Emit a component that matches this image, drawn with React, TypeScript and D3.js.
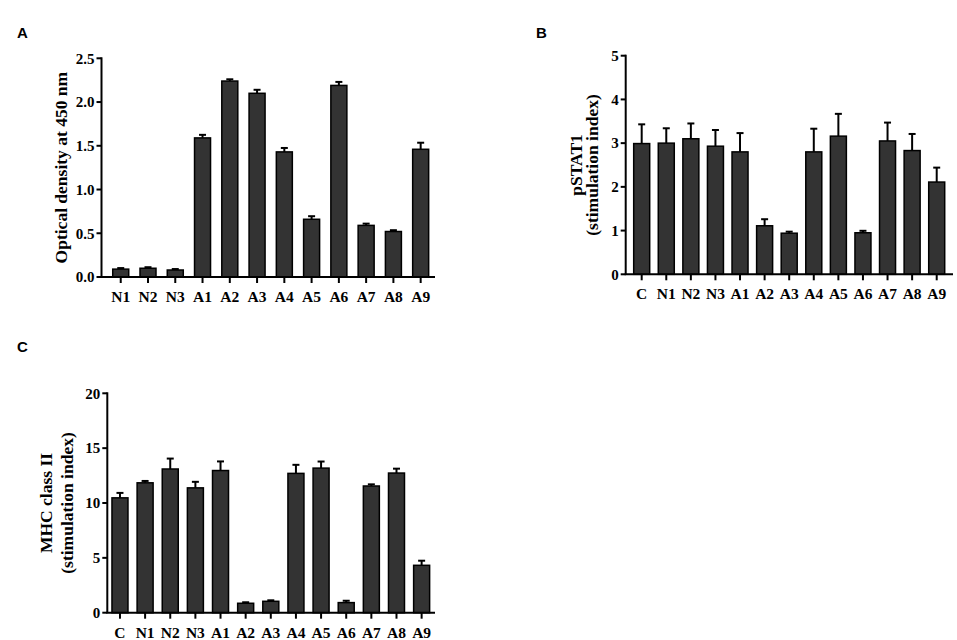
import React, { useEffect, useRef } from 'react';
import * as d3 from 'd3';

// Panel A: antibody binding (OD 450 nm)
const panelACategories = ['N1', 'N2', 'N3', 'A1', 'A2', 'A3', 'A4', 'A5', 'A6', 'A7', 'A8', 'A9'];
const panelAMeans = [0.09, 0.1, 0.08, 1.59, 2.24, 2.1, 1.43, 0.66, 2.19, 0.59, 0.52, 1.46];
const panelAErrors = [0.012, 0.012, 0.011, 0.035, 0.02, 0.04, 0.045, 0.035, 0.04, 0.02, 0.015, 0.075];
const panelATicks = [0, 0.5, 1.0, 1.5, 2.0, 2.5];

// Panel B: pSTAT1
const panelBCategories = ['C', 'N1', 'N2', 'N3', 'A1', 'A2', 'A3', 'A4', 'A5', 'A6', 'A7', 'A8', 'A9'];
const panelBMeans = [2.99, 3.0, 3.1, 2.93, 2.8, 1.11, 0.94, 2.8, 3.16, 0.95, 3.05, 2.83, 2.11];
const panelBErrors = [0.44, 0.34, 0.35, 0.37, 0.43, 0.15, 0.035, 0.53, 0.51, 0.045, 0.42, 0.38, 0.33];
const panelBTicks = [0, 1, 2, 3, 4, 5];

// Panel C: MHC class II
const panelCCategories = ['C', 'N1', 'N2', 'N3', 'A1', 'A2', 'A3', 'A4', 'A5', 'A6', 'A7', 'A8', 'A9'];
const panelCMeans = [10.47, 11.84, 13.1, 11.38, 12.96, 0.86, 1.04, 12.7, 13.18, 0.92, 11.55, 12.73, 4.32];
const panelCErrors = [0.45, 0.17, 0.95, 0.55, 0.83, 0.09, 0.09, 0.78, 0.6, 0.17, 0.15, 0.4, 0.42];
const panelCTicks = [0, 5, 10, 15, 20];

const SERIF = '"Liberation Serif", "Times New Roman", serif';
const SANS = '"Liberation Sans", Arial, sans-serif';

interface PanelSpec {
  letter: string;
  letterX: number;
  letterY: number;
  categories: string[];
  means: number[];
  errors: number[];
  ticks: number[];
  tickFormat: (v: number) => string;
  yMax: number;
  axisX: number;
  xEnd: number;
  yTop: number;
  yBottom: number;
  bandStart: number;
  bandEnd: number;
  titleLines: { text: string; x: number }[];
}

const panels: PanelSpec[] = [
  {
    letter: 'A',
    letterX: 17,
    letterY: 38,
    categories: panelACategories,
    means: panelAMeans,
    errors: panelAErrors,
    ticks: panelATicks,
    tickFormat: d3.format('.1f'),
    yMax: 2.5,
    axisX: 101.5,
    xEnd: 435,
    yTop: 58.3,
    yBottom: 277,
    bandStart: 107.1,
    bandEnd: 434.3,
    titleLines: [{ text: 'Optical density at 450 nm', x: 61 }],
  },
  {
    letter: 'B',
    letterX: 536,
    letterY: 38,
    categories: panelBCategories,
    means: panelBMeans,
    errors: panelBErrors,
    ticks: panelBTicks,
    tickFormat: d3.format('d'),
    yMax: 5,
    axisX: 625.7,
    xEnd: 953,
    yTop: 55.7,
    yBottom: 274.3,
    bandStart: 629.4,
    bandEnd: 949,
    titleLines: [
      { text: 'pSTAT1', x: 576 },
      { text: '(stimulation index)', x: 592 },
    ],
  },
  {
    letter: 'C',
    letterX: 17,
    letterY: 352,
    categories: panelCCategories,
    means: panelCMeans,
    errors: panelCErrors,
    ticks: panelCTicks,
    tickFormat: d3.format('d'),
    yMax: 20,
    axisX: 107.3,
    xEnd: 435,
    yTop: 393.3,
    yBottom: 612.7,
    bandStart: 107.4,
    bandEnd: 434.2,
    titleLines: [
      { text: 'MHC class II', x: 46 },
      { text: '(stimulation index)', x: 67 },
    ],
  },
];

function drawPanel(root: d3.Selection<SVGGElement, unknown, null, undefined>, p: PanelSpec) {
  const g = root.append('g');

  const x = d3.scaleBand<string>().domain(p.categories).range([p.bandStart, p.bandEnd]).padding(0);
  const y = d3.scaleLinear().domain([0, p.yMax]).range([p.yBottom, p.yTop]);
  const barW = 16;
  const cx = (c: string) => (x(c) as number) + x.bandwidth() / 2;

  const rows = p.categories.map((c, i) => ({ c, m: p.means[i], e: p.errors[i] }));

  // error bars (upper only)
  g.selectAll('.err')
    .data(rows)
    .enter()
    .append('line')
    .attr('x1', (d) => cx(d.c))
    .attr('x2', (d) => cx(d.c))
    .attr('y1', (d) => y(d.m))
    .attr('y2', (d) => y(d.m + d.e))
    .attr('stroke', '#000')
    .attr('stroke-width', 2);

  g.selectAll('.cap')
    .data(rows)
    .enter()
    .append('line')
    .attr('x1', (d) => cx(d.c) - 3.5)
    .attr('x2', (d) => cx(d.c) + 3.5)
    .attr('y1', (d) => y(d.m + d.e))
    .attr('y2', (d) => y(d.m + d.e))
    .attr('stroke', '#000')
    .attr('stroke-width', 2);

  // bars
  g.selectAll('.bar')
    .data(rows)
    .enter()
    .append('rect')
    .attr('x', (d) => cx(d.c) - barW / 2)
    .attr('y', (d) => y(d.m))
    .attr('width', barW)
    .attr('height', (d) => p.yBottom - y(d.m))
    .attr('fill', '#333333')
    .attr('stroke', '#000')
    .attr('stroke-width', 1.5);

  // y axis
  g.append('line')
    .attr('x1', p.axisX)
    .attr('x2', p.axisX)
    .attr('y1', p.yTop - 1)
    .attr('y2', p.yBottom)
    .attr('stroke', '#000')
    .attr('stroke-width', 2);

  g.selectAll('.ytick')
    .data(p.ticks)
    .enter()
    .append('line')
    .attr('x1', p.axisX - 5)
    .attr('x2', p.axisX)
    .attr('y1', (d) => y(d))
    .attr('y2', (d) => y(d))
    .attr('stroke', '#000')
    .attr('stroke-width', 2);

  g.selectAll('.ylabel')
    .data(p.ticks)
    .enter()
    .append('text')
    .text((d) => p.tickFormat(d))
    .attr('x', p.axisX - 7)
    .attr('y', (d) => y(d))
    .attr('dy', '0.35em')
    .attr('text-anchor', 'end')
    .style('font-family', SERIF)
    .style('font-weight', 'bold')
    .style('font-size', '15px');

  // x axis
  g.append('line')
    .attr('x1', p.axisX - 1)
    .attr('x2', p.xEnd)
    .attr('y1', p.yBottom)
    .attr('y2', p.yBottom)
    .attr('stroke', '#000')
    .attr('stroke-width', 2);

  g.selectAll('.xtick')
    .data(p.categories)
    .enter()
    .append('line')
    .attr('x1', (d) => cx(d))
    .attr('x2', (d) => cx(d))
    .attr('y1', p.yBottom)
    .attr('y2', p.yBottom + 6)
    .attr('stroke', '#000')
    .attr('stroke-width', 2);

  g.selectAll('.xlabel')
    .data(p.categories)
    .enter()
    .append('text')
    .text((d) => d)
    .attr('x', (d) => cx(d))
    .attr('y', p.yBottom + 25)
    .attr('text-anchor', 'middle')
    .style('font-family', SERIF)
    .style('font-weight', 'bold')
    .style('font-size', '15.5px');

  // y title
  const midY = (p.yTop + p.yBottom) / 2;
  p.titleLines.forEach((line) => {
    g.append('text')
      .text(line.text)
      .attr('transform', `translate(${line.x},${midY}) rotate(-90)`)
      .attr('dy', '0.35em')
      .attr('text-anchor', 'middle')
      .style('font-family', SERIF)
      .style('font-weight', 'bold')
      .style('font-size', '17.5px');
  });

  // panel letter
  g.append('text')
    .text(p.letter)
    .attr('x', p.letterX)
    .attr('y', p.letterY)
    .style('font-family', SANS)
    .style('font-weight', 'bold')
    .style('font-size', '15px');
}

export default function App() {
  const ref = useRef<SVGSVGElement>(null);

  useEffect(() => {
    if (!ref.current) return;
    const svg = d3.select(ref.current);
    svg.selectAll('*').remove();
    const root = svg.append('g');
    panels.forEach((p) => drawPanel(root, p));
  }, []);

  return (
    <svg
      ref={ref}
      width={957}
      height={640}
      style={{ position: 'absolute', left: 0, top: 0, background: '#fff' }}
    />
  );
}
